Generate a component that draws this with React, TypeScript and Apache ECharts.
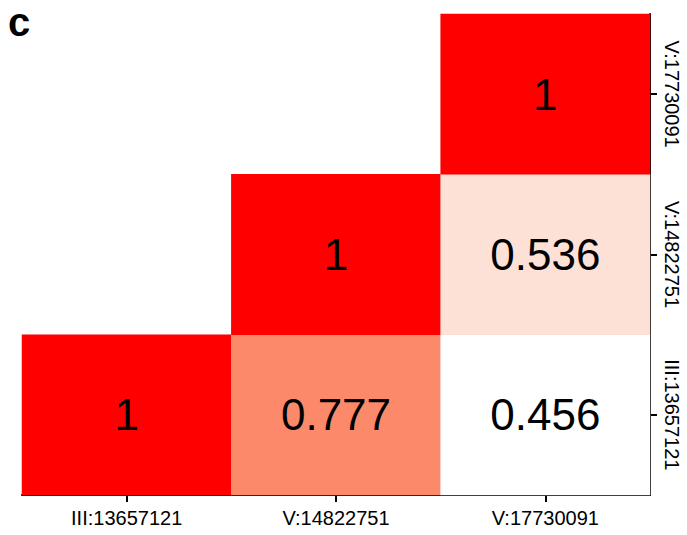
import React, { useEffect, useRef } from "react";
import * as echarts from "echarts";

const categories = ["III:13657121", "V:14822751", "V:17730091"];
// [xIndex, yIndex, value]
const cells: [number, number, number][] = [
  [0, 0, 1],
  [1, 0, 0.777],
  [2, 0, 0.456],
  [1, 1, 1],
  [2, 1, 0.536],
  [2, 2, 1],
];

const FONT = "'Liberation Sans', Arial, Helvetica, sans-serif";

export default function App() {
  const ref = useRef<HTMLDivElement>(null);
  useEffect(() => {
    if (!ref.current) return;
    const chart = echarts.init(ref.current, null, { renderer: "svg" });
    chart.setOption({
      animation: false,
      backgroundColor: "#ffffff",
      textStyle: { fontFamily: FONT },
      graphic: [
        {
          type: "text",
          left: 8,
          top: 2,
          style: { text: "c", font: `bold 40px ${FONT}`, fill: "#000" },
        },
      ],
      grid: { left: 22, right: 37, top: 14, bottom: 40 },
      xAxis: {
        type: "category",
        data: categories,
        position: "bottom",
        axisLine: { show: true, lineStyle: { color: "#000", width: 2 } },
        axisTick: { show: true, alignWithLabel: true, length: 7, lineStyle: { color: "#000", width: 2 } },
        axisLabel: { color: "#000", fontSize: 20, margin: 13, fontFamily: FONT },
        splitLine: { show: false },
        splitArea: { show: false },
      },
      yAxis: {
        type: "category",
        data: categories,
        position: "right",
        axisLine: { show: true, lineStyle: { color: "#000", width: 2 } },
        axisTick: { show: true, alignWithLabel: true, length: 7, lineStyle: { color: "#000", width: 2 } },
        axisLabel: { color: "#000", fontSize: 20, margin: 12, rotate: -90, fontFamily: FONT },
        splitLine: { show: false },
        splitArea: { show: false },
      },
      visualMap: {
        show: false,
        type: "piecewise",
        dimension: 2,
        pieces: [
          { min: 0.4, max: 0.5, color: "#ffffff" },
          { min: 0.5, max: 0.6, color: "#FEE1D6" },
          { min: 0.7, max: 0.8, color: "#FC8A6A" },
          { min: 0.99, max: 1.0, color: "#FF0000" },
        ],
      },
      series: [
        {
          type: "heatmap",
          data: cells,
          label: {
            show: true,
            color: "#000",
            fontSize: 44,
            fontFamily: FONT,
            formatter: (p: any) => String(p.value[2]),
          },
          itemStyle: { borderWidth: 0 },
          emphasis: { disabled: true },
        },
      ],
    });
    return () => chart.dispose();
  }, []);
  return <div ref={ref} style={{ width: 687, height: 535, position: "absolute", left: 0, top: 0 }} />;
}
